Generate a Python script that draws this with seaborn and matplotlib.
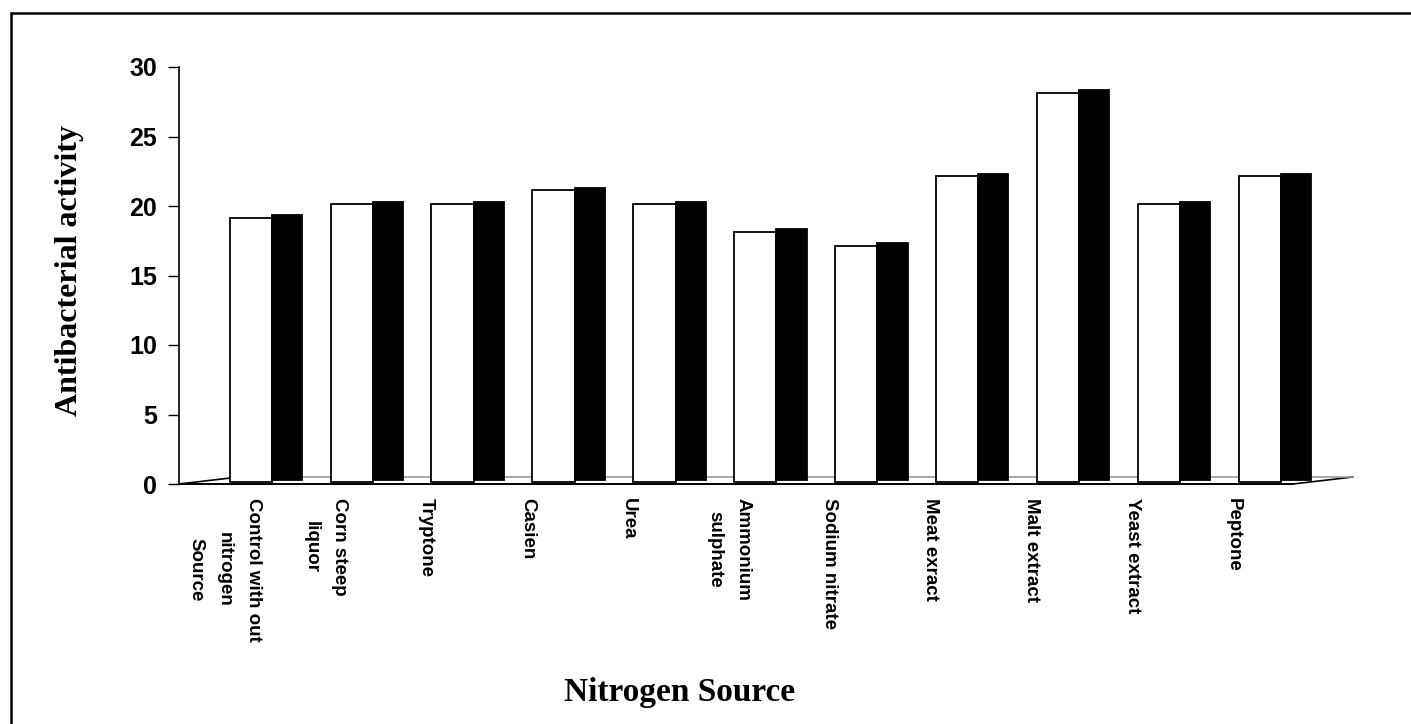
import matplotlib
matplotlib.use("Agg")
import matplotlib.pyplot as plt
import matplotlib.lines as mlines
import matplotlib.transforms as mtransforms
import numpy as np
import pandas as pd
import seaborn as sns

# Nitrogen sources tested and the antibacterial activity they gave
sources = [
    "Control with out\nnitrogen\nSource",
    "Corn steep\nliquor",
    "Tryptone",
    "Casien",
    "Urea",
    "Ammonium\nsulphate",
    "Sodium nitrate",
    "Meat exract",
    "Malt extract",
    "Yeast extract",
    "Peptone",
]
activity = [19, 20, 20, 21, 20, 18, 17, 22, 28, 20, 22]
y_ticks = [0, 5, 10, 15, 20, 25, 30]

# Each column is drawn as a white front face plus a black side face
faces = ["front", "side"]
df = pd.DataFrame({
    "source": np.repeat(sources, len(faces)),
    "face": faces * len(sources),
    "activity": np.repeat(activity, len(faces)),
})

sns.set_theme(style="white")
plt.rcParams["font.family"] = ["Liberation Sans", "DejaVu Sans"]
plt.rcParams.update({"text.color": "black", "axes.labelcolor": "black",
                     "xtick.color": "black", "ytick.color": "black"})

W, H = 1411, 724
fig = plt.figure(figsize=(W / 100, H / 100), dpi=100)
ax_left, ax_right, ax_bottom, ax_top = 179, 1293, 484, 67
ax = fig.add_axes([ax_left / W, 1 - ax_bottom / H,
                   (ax_right - ax_left) / W, (ax_bottom - ax_top) / H])

sns.barplot(data=df, x="source", y="activity", hue="face", order=sources,
            hue_order=faces, palette={"front": "white", "side": "black"},
            dodge=True, width=0.72, edgecolor="black", linewidth=1.3,
            legend=False, ax=ax, zorder=3)

# Reshape the dodged pairs into a wide front face and a narrower,
# slightly raised side face for the 3-D column look
front_shift = mtransforms.offset_copy(ax.transData, fig=fig, x=0, y=2, units="dots")
side_shift = mtransforms.offset_copy(ax.transData, fig=fig, x=0, y=4.5, units="dots")
for p in ax.patches:
    xc = p.get_x()
    fc = p.get_facecolor()
    p.set_clip_on(False)
    if fc[0] > 0.5:  # front face
        i = round(xc + 0.18)
        p.set_x(i - 0.36)
        p.set_width(0.42)
        p.set_transform(front_shift)
    else:            # side face
        i = round(xc - 0.18)
        p.set_x(i + 0.06)
        p.set_width(0.30)
        p.set_transform(side_shift)

ax.set_ylim(0, 30)
ax.set_xlim(-0.862, 10.18)
ax.set_yticks(y_ticks)
ax.set_yticklabels([str(v) for v in y_ticks], fontsize=18, fontweight="bold")
ax.tick_params(axis="y", direction="out", length=8, width=1.0, color="black",
               pad=8, left=True)

# Category labels, rotated to read downward, sitting left of each column
ax.set_xticks([i - 0.41 for i in range(len(sources))])
ax.set_xticklabels(sources, rotation=270, fontsize=13.5, fontweight="bold",
                   family=["Liberation Sans Narrow", "Liberation Sans", "DejaVu Sans"],
                   linespacing=1.9)
for lab in ax.get_xticklabels():
    lab.set_multialignment("center")
    lab.set_verticalalignment("top")
    lab.set_horizontalalignment("center")
ax.tick_params(axis="x", length=0, pad=10)

ax.set_xlabel("")
ax.set_ylabel("")
for s in ["top", "right"]:
    ax.spines[s].set_visible(False)
ax.spines["left"].set_color("black")
ax.spines["left"].set_linewidth(1.2)
ax.spines["bottom"].set_color("black")
ax.spines["bottom"].set_linewidth(1.4)

# Floor of the 3-D plot: a shallow parallelogram behind the base line
dx = 60 / (ax_right - ax_left)
dy = 7 / (ax_bottom - ax_top)
for xs, ys, col in [([0, dx], [0, dy], "black"),
                    ([1, 1 + dx], [0, dy], "black"),
                    ([dx, 1 + dx], [dy, dy], "#9a9a9a")]:
    ax.add_line(mlines.Line2D(xs, ys, transform=ax.transAxes, color=col,
                              lw=1.2, clip_on=False, zorder=1))

fig.text(70 / W, 1 - 270 / H, "Antibacterial activity", rotation=90,
         ha="center", va="center", fontsize=23, fontweight="bold",
         family=["Liberation Serif", "DejaVu Serif"])
fig.text(680 / W, 1 - 692 / H, "Nitrogen Source", ha="center", va="center",
         fontsize=24, fontweight="bold",
         family=["Liberation Serif", "DejaVu Serif"])

# Frame along the left and top edges
fig.add_artist(mlines.Line2D([11 / W, 11 / W], [0, 1 - 13 / H],
                             transform=fig.transFigure, color="black", lw=1.8))
fig.add_artist(mlines.Line2D([11 / W, 1], [1 - 13 / H, 1 - 13 / H],
                             transform=fig.transFigure, color="black", lw=1.8))

fig.savefig("out.png", dpi=100, facecolor="white")
